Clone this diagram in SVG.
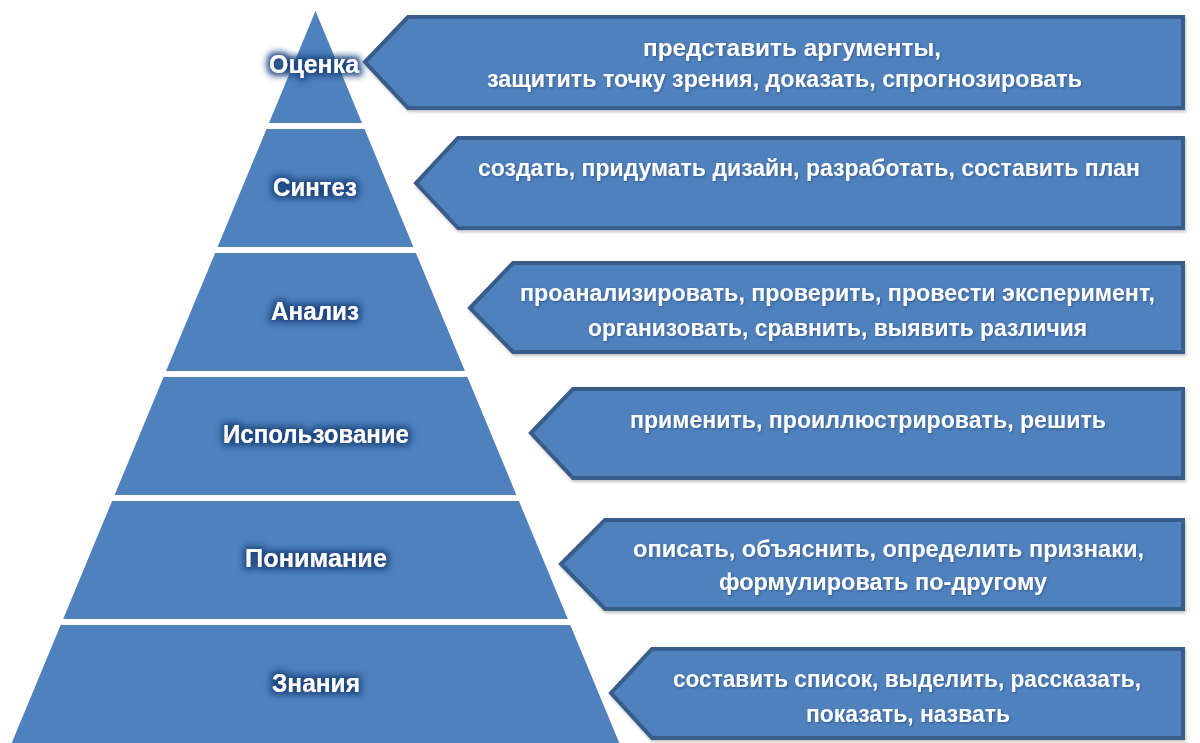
<svg xmlns="http://www.w3.org/2000/svg" width="1200" height="743" viewBox="0 0 1200 743">
<defs>
<filter id="glow" x="-20%" y="-60%" width="140%" height="220%">
<feMorphology in="SourceAlpha" operator="dilate" radius="3" result="d"/>
<feGaussianBlur in="d" stdDeviation="3" result="b"/>
<feFlood flood-color="#1f4a84" flood-opacity="1"/>
<feComposite in2="b" operator="in" result="g"/>
<feMerge><feMergeNode in="g"/><feMergeNode in="SourceGraphic"/></feMerge>
</filter>
<filter id="shadow" x="-5%" y="-10%" width="110%" height="130%">
<feGaussianBlur in="SourceAlpha" stdDeviation="1.5"/>
<feOffset dx="1" dy="2" result="o"/>
<feFlood flood-color="#000" flood-opacity="0.25"/>
<feComposite in2="o" operator="in"/>
<feMerge><feMergeNode/><feMergeNode in="SourceGraphic"/></feMerge>
</filter>
<filter id="tshadow" x="-5%" y="-30%" width="110%" height="160%">
<feGaussianBlur in="SourceAlpha" stdDeviation="1"/>
<feOffset dx="1" dy="1" result="o"/>
<feFlood flood-color="#1d3a66" flood-opacity="0.55"/>
<feComposite in2="o" operator="in"/>
<feMerge><feMergeNode/><feMergeNode in="SourceGraphic"/></feMerge>
</filter>
</defs>
<style>
.band{fill:#4f81bd;}
.arrow{fill:#4f81bd;stroke:#385d8a;stroke-width:4;stroke-linejoin:miter;}
.lbl{font-family:"Liberation Sans",Arial,sans-serif;font-weight:bold;font-size:25px;fill:#fff;text-anchor:middle;}
.txt{font-family:"Liberation Sans",Arial,sans-serif;font-weight:bold;font-size:23px;fill:#fff;text-anchor:middle;}
</style>
<rect width="1200" height="743" fill="#fff"/>
<g id="connectors"/>
<g id="level-otsenka">
<polygon class="band" points="315.5,11 362,123 269,123"/>
<text class="lbl" x="314" y="73" textLength="90" lengthAdjust="spacingAndGlyphs" filter="url(#glow)">Оценка</text>
</g>
<g id="level-sintez">
<polygon class="band" points="266.5,129 364.5,129 413.4,247 217.6,247"/>
<text class="lbl" x="315" y="196" textLength="84" lengthAdjust="spacingAndGlyphs" filter="url(#glow)">Синтез</text>
</g>
<g id="level-analiz">
<polygon class="band" points="215.1,253 415.9,253 464.9,371 166.1,371"/>
<text class="lbl" x="315" y="320" textLength="88" lengthAdjust="spacingAndGlyphs" filter="url(#glow)">Анализ</text>
</g>
<g id="level-ispolzovanie">
<polygon class="band" points="163.6,377 467.4,377 516.4,495 114.6,495"/>
<text class="lbl" x="316" y="443" textLength="186" lengthAdjust="spacingAndGlyphs" filter="url(#glow)">Использование</text>
</g>
<g id="level-ponimanie">
<polygon class="band" points="112.1,501 518.9,501 567.8,619 63.2,619"/>
<text class="lbl" x="316" y="567" textLength="142" lengthAdjust="spacingAndGlyphs" filter="url(#glow)">Понимание</text>
</g>
<g id="level-znaniya">
<polygon class="band" points="60.7,625 570.3,625 619.3,743 11.7,743"/>
<text class="lbl" x="316" y="692" textLength="88" lengthAdjust="spacingAndGlyphs" filter="url(#glow)">Знания</text>
</g>
<g id="arrow-1" filter="url(#shadow)">
<polygon class="arrow" points="365,62 408,17 1183,17 1183,108 408,108"/>
<g filter="url(#tshadow)">
<text class="txt" x="792" y="56" textLength="298" lengthAdjust="spacingAndGlyphs">представить аргументы,</text>
<text class="txt" x="784.5" y="87" textLength="595" lengthAdjust="spacingAndGlyphs">защитить точку зрения, доказать, спрогнозировать</text>
</g>
</g>
<g id="arrow-2" filter="url(#shadow)">
<polygon class="arrow" points="416,183 458,138 1183,138 1183,228 458,228"/>
<g filter="url(#tshadow)">
<text class="txt" x="809" y="176" textLength="662" lengthAdjust="spacingAndGlyphs">создать, придумать дизайн, разработать, составить план</text>
</g>
</g>
<g id="arrow-3" filter="url(#shadow)">
<polygon class="arrow" points="470,308 513,263 1183,263 1183,352 513,352"/>
<g filter="url(#tshadow)">
<text class="txt" x="837.5" y="301" textLength="635" lengthAdjust="spacingAndGlyphs">проанализировать, проверить, провести эксперимент,</text>
<text class="txt" x="837.5" y="336" textLength="499" lengthAdjust="spacingAndGlyphs">организовать, сравнить, выявить различия</text>
</g>
</g>
<g id="arrow-4" filter="url(#shadow)">
<polygon class="arrow" points="531,433 573,389 1183,389 1183,478 573,478"/>
<g filter="url(#tshadow)">
<text class="txt" x="868" y="428" textLength="476" lengthAdjust="spacingAndGlyphs">применить, проиллюстрировать, решить</text>
</g>
</g>
<g id="arrow-5" filter="url(#shadow)">
<polygon class="arrow" points="561,564 605,520 1183,520 1183,609 605,609"/>
<g filter="url(#tshadow)">
<text class="txt" x="888.5" y="557" textLength="511" lengthAdjust="spacingAndGlyphs">описать, объяснить, определить признаки,</text>
<text class="txt" x="883" y="590" textLength="328" lengthAdjust="spacingAndGlyphs">формулировать по-другому</text>
</g>
</g>
<g id="arrow-6" filter="url(#shadow)">
<polygon class="arrow" points="611,693 652,649 1183,649 1183,738 652,738"/>
<g filter="url(#tshadow)">
<text class="txt" x="907" y="687" textLength="468" lengthAdjust="spacingAndGlyphs">составить список, выделить, рассказать,</text>
<text class="txt" x="908" y="722" textLength="204" lengthAdjust="spacingAndGlyphs">показать, назвать</text>
</g>
</g>
</svg>
